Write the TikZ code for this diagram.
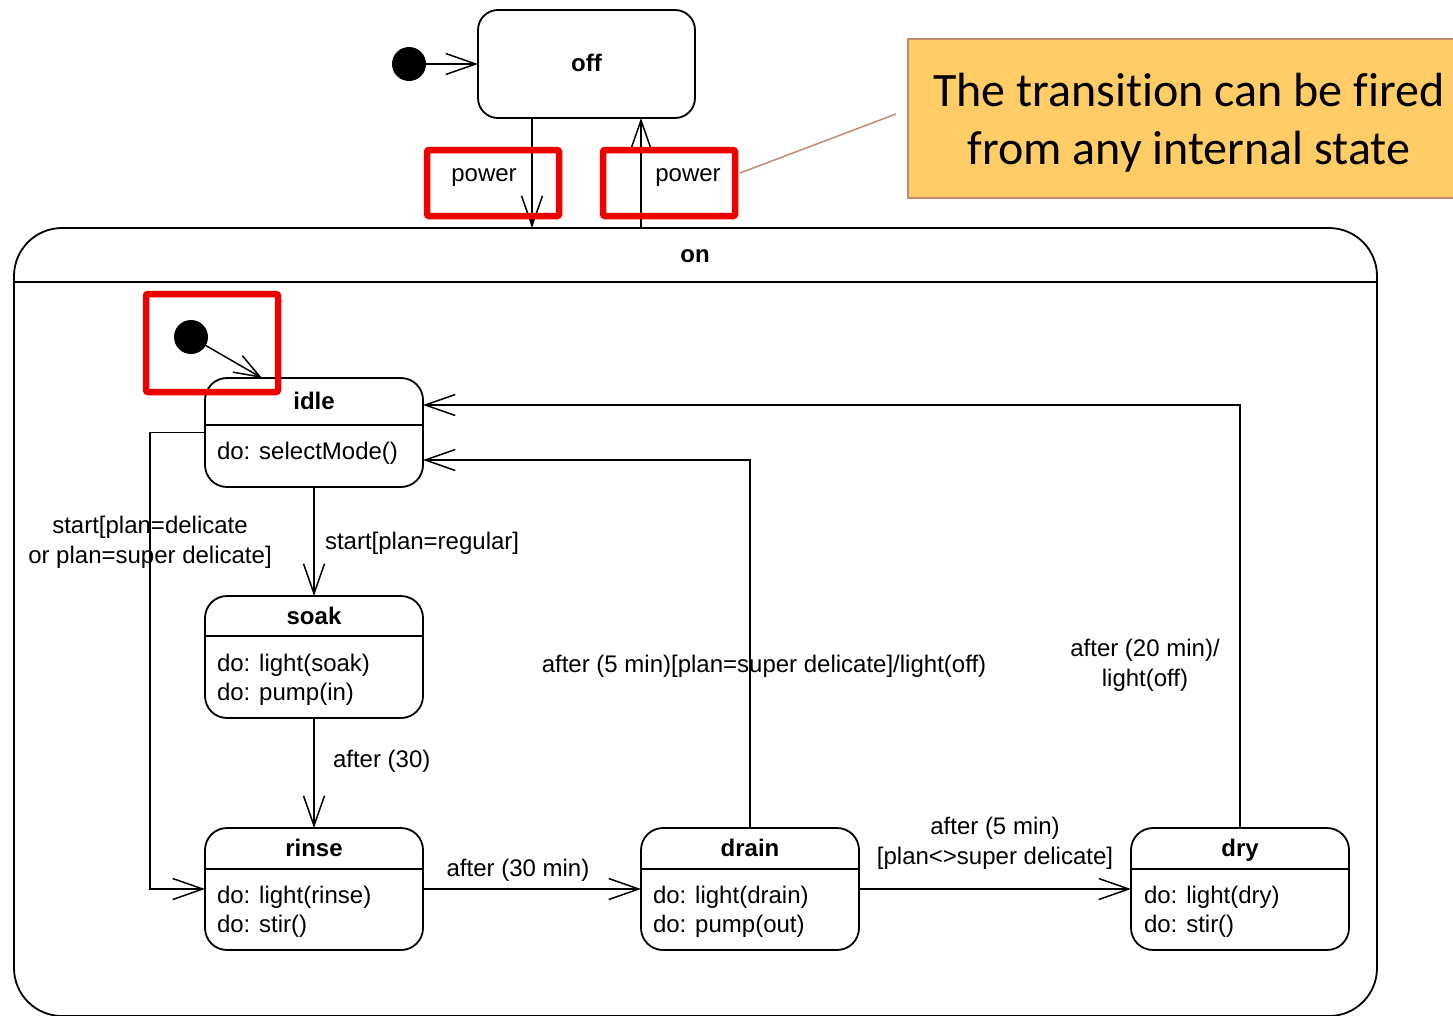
\documentclass[tikz,border=0pt]{standalone}
\usepackage{fontspec}
\setmainfont{Liberation Sans}
\newfontfamily\notefont[Ligatures=NoCommon]{Carlito}
\usetikzlibrary{arrows.meta,calc}
\definecolor{notefill}{HTML}{FFCC66}
\definecolor{noteline}{HTML}{BF8C73}
\definecolor{hired}{HTML}{EE0000}
\begin{document}
\begin{tikzpicture}[x=1pt,y=-1pt,
  every node/.style={font=\fontsize{24}{30}\selectfont, inner sep=0pt, outer sep=0pt},
  txt/.style={text height=17.5pt, text depth=5pt, yshift=-1pt},
  statebox/.style={draw, line width=1.8pt, rounded corners=22pt, minimum width=218pt},
  sep/.style={line width=1.8pt},
  title/.style={txt, font=\fontsize{24}{30}\selectfont\bfseries},
  act/.style={txt, anchor=west},
  lbl/.style={align=center},
  trans/.style={line width=1.5pt, -{Straight Barb[length=30pt,width=21pt,line width=1.5pt]}},
  initdot/.style={circle, fill=black, minimum size=34pt},
  hilite/.style={draw=hired, line width=6.5pt, rounded corners=2pt}]

\useasboundingbox (0,0) rectangle (1453,1015);

% top level states
\node[initdot] (init0) at (409,64) {};
\node[draw, line width=1.8pt, rounded corners=20pt, minimum width=217pt, minimum height=108pt] (off) at (586.5,64) {};
\node[title] (offt) at (586.5,64) {off};

\node[draw, line width=1.8pt, rounded corners=48pt, minimum width=1363pt, minimum height=788pt] (on) at (695.5,622) {};
\draw[sep] (14,282) -- (1377,282);
\node[title] (ont) at (695,255) {on};

% inner states
\node[initdot] (init1) at (191,337) {};

\node[statebox, minimum height=109pt] (idle) at (314,432.5) {};
\draw[sep] (205,425) -- (423,425);
\node[title] (idlet) at (314,402) {idle};
\node[act] (idlea) at (217,452) {do: selectMode()};

\node[statebox, minimum height=122pt] (soak) at (314,657) {};
\draw[sep] (205,636) -- (423,636);
\node[title] (soakt) at (314,617) {soak};
\node[act] (soaka) at (217,664) {do: light(soak)};
\node[act] (soakb) at (217,693) {do: pump(in)};

\node[statebox, minimum height=122pt] (rinse) at (314,889) {};
\draw[sep] (205,869) -- (423,869);
\node[title] (rinset) at (314,849) {rinse};
\node[act] (rinsea) at (217,896) {do: light(rinse)};
\node[act] (rinseb) at (217,925) {do: stir()};

\node[statebox, minimum height=122pt] (drain) at (750,889) {};
\draw[sep] (641,869) -- (859,869);
\node[title] (draint) at (750,849) {drain};
\node[act] (draina) at (653,896) {do: light(drain)};
\node[act] (drainb) at (653,925) {do: pump(out)};

\node[statebox, minimum height=122pt] (dry) at (1240,889) {};
\draw[sep] (1131,869) -- (1349,869);
\node[title] (dryt) at (1240,849) {dry};
\node[act] (drya) at (1144,896) {do: light(dry)};
\node[act] (dryb) at (1144,925) {do: stir()};

% transitions
\draw[trans] (init0) -- (off.west);
\coordinate (offdown) at ($(off.south west)+(54,0)$);
\coordinate (offup) at ($(off.south west)+(163,0)$);
\draw[trans] (offdown) -- (offdown |- on.north);
\draw[trans] (offup |- on.north) -- (offup);
\node[txt] (pw1) at (484,174) {power};
\node[txt] (pw2) at (688,174) {power};

\draw[trans, -{Straight Barb[length=26pt,width=19pt,line width=1.5pt]}] (init1) -- ($(idle.north west)+(57,0)$);
\draw[trans] (idle.south) -- (soak.north);
\node[act] (l1) at (325,542) {start[plan=regular]};
\draw[trans] (soak.south) -- (rinse.north);
\node[act] (l2) at (333,760) {after (30)};
\draw[trans] (idle.west) -- ++(-55,0) |- (rinse.west);
\node[lbl] (l3) at (150,542) {start[plan=delicate\\or plan=super delicate]};
\draw[trans] (rinse.east) -- (drain.west);
\node[txt] (l4) at (518,869) {after (30 min)};
\draw[trans] (drain.east) -- (dry.west);
\node[lbl] (l5) at (995,843) {after (5 min)\\{}[plan<>super delicate]};
\draw[trans] (drain.north) |- ($(idle.east)+(0,27.5)$);
\node[txt] (l6) at (764,665) {after (5 min)[plan=super delicate]/light(off)};
\draw[trans] (dry.north) |- ($(idle.east)+(0,-27.5)$);
\node[lbl] (l7) at (1145,665) {after (20 min)/\\light(off)};

% highlights and note
\node[hilite, minimum width=132pt, minimum height=66pt] (hl1) at (493,183) {};
\node[hilite, minimum width=132pt, minimum height=66pt] (hl2) at (669,183) {};
\node[hilite, minimum width=132pt, minimum height=98pt] (hl3) at (212,343) {};

\node[draw=noteline, fill=notefill, line width=1.5pt, minimum width=562pt, minimum height=159pt] (note) at (1189,118.5) {};
\node[align=center, font=\notefont\fontsize{48}{58}\selectfont] (notetext) at (1189,123)
      {The transition can be fired\\from any internal state};
\draw[noteline, line width=1.5pt] ($(hl2.east)+(5,-10)$) -- ($(note.west)+(-12,-4.5)$);
\end{tikzpicture}
\end{document}
